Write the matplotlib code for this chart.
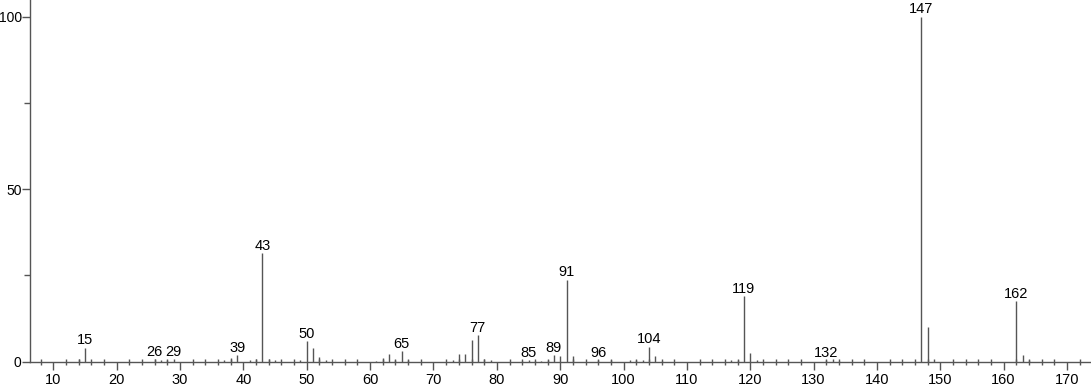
import matplotlib
matplotlib.use("Agg")
import matplotlib.pyplot as plt
from matplotlib.ticker import MultipleLocator

plt.rcParams['font.family'] = ['Liberation Sans', 'DejaVu Sans']

# m/z and relative intensity
mz = [14, 15, 26, 27, 28, 29, 37, 38, 39, 41, 42, 43, 44, 45, 49, 50, 51, 52, 53,
      61, 62, 63, 64, 65, 66, 73, 74, 75, 76, 77, 78, 79, 84, 85, 86, 87, 88, 89,
      90, 91, 92, 96, 98, 101, 102, 103, 104, 105, 106, 117, 118, 119, 120, 121,
      132, 133, 134, 147, 148, 149, 162, 163, 164]
intensity = [0.9, 4.1, 0.8, 0.4, 0.5, 0.8, 0.5, 1.0, 1.9, 0.5, 0.8, 31.6, 0.7, 0.4, 0.6, 6.0,
             3.9, 1.5, 0.5, 0.3, 1.0, 2.1, 0.6, 3.0, 0.6, 0.5, 2.1, 2.1, 6.3, 7.7, 0.7, 0.4,
             0.3, 0.5, 0.3, 0.3, 0.5, 1.9, 1.6, 23.8, 1.6, 0.5, 0.5, 0.5, 0.5, 0.6, 4.4,
             1.6, 0.3, 0.5, 0.6, 18.9, 2.4, 0.5, 0.6, 0.8, 0.3, 100.0, 10.1, 0.8, 17.5,
             1.9, 0.6]
labeled = [15, 26, 29, 39, 43, 50, 65, 77, 85, 89, 91, 96, 104, 119, 132, 147, 162]

fig = plt.figure(figsize=(10.91, 3.87), dpi=100)
ax = fig.add_axes([0.0275, 0.0654, 0.9725, 0.9346])

ax.vlines(mz, 0, intensity, color='#555555', linewidth=1.0)
for m, h in zip(mz, intensity):
    if m in labeled:
        ax.text(m, h + 0.9, str(m), ha='center', va='baseline', fontsize=10.5, color='black')

ax.set_xlim(6.3, 173.8)
ax.set_ylim(0, 104.8)
ax.spines['top'].set_visible(False)
ax.spines['right'].set_visible(False)
for s in ('left', 'bottom'):
    ax.spines[s].set_color('#555555')
    ax.spines[s].set_linewidth(1.0)

ax.xaxis.set_major_locator(MultipleLocator(10))
ax.xaxis.set_minor_locator(MultipleLocator(2))
ax.set_yticks([0, 50, 100])
ax.yaxis.set_minor_locator(MultipleLocator(25))
ax.tick_params(which='major', direction='out', length=6, width=1.0, color='#555555',
               labelsize=10.5)
ax.tick_params(axis='x', which='major', pad=2.5)
ax.tick_params(axis='y', which='major', length=5.5, pad=0.5, labelsize=10)
ax.tick_params(axis='x', which='minor', direction='inout', length=5, width=1.0, color='#555555')
ax.tick_params(axis='y', which='minor', direction='out', length=4, width=1.0, color='#555555')

fig.savefig('out.png', dpi=100)
